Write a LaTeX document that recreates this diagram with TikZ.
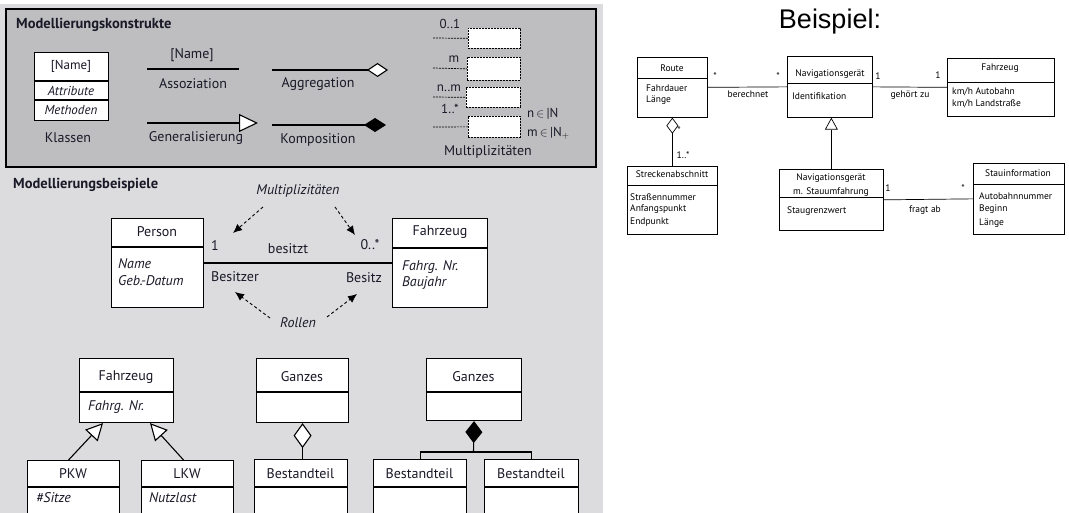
\documentclass[tikz,border=0pt]{standalone}
\usepackage{fontspec}
\setmainfont{PT Sans}
\newfontfamily\arialfont{Liberation Sans}
\usetikzlibrary{arrows.meta,calc}
\definecolor{outerbg}{RGB}{220,220,222}
\definecolor{innerbg}{RGB}{190,190,192}
\definecolor{txt}{RGB}{25,25,40}
\newcommand\lbox[6]{%
  \node[ubox, minimum width={#4-#2}, minimum height={#5-#3}] (#1) at (#2,#3) {};
  \draw[line width=1.1pt] (#2,#6) -- (#4,#6);}
\newcommand\rbox[6]{%
  \node[rubox, minimum width={#4-#2}, minimum height={#5-#3}] (#1) at (#2,#3) {};
  \draw[line width=0.7pt] (#2,#6) -- (#4,#6);}
\begin{document}
\begin{tikzpicture}[x=1pt,y=-1pt,
  ubox/.style={draw, fill=white, line width=1.1pt, inner sep=0pt, anchor=north west},
  rubox/.style={draw, fill=white, line width=0.7pt, inner sep=0pt, anchor=north west},
  lt/.style={font=\fontsize{14}{16}\selectfont, text=txt, inner sep=0pt},
  lts/.style={font=\fontsize{13}{15}\selectfont, text=txt, inner sep=0pt},
  lti/.style={font=\fontsize{14}{16}\selectfont\itshape, text=txt, inner sep=0pt},
  ltsi/.style={font=\fontsize{13}{15}\selectfont\itshape, text=txt, inner sep=0pt},
  hd/.style={font=\fontsize{14.5}{16}\selectfont\bfseries, text=txt, inner sep=0pt, anchor=west},
  rt/.style={font=\fontsize{9.5}{11}\selectfont, inner sep=0pt},
  rtw/.style={rt, anchor=west},
  lline/.style={line width=1.1pt},
  rline/.style={line width=0.7pt},
  darr/.style={line width=0.9pt, dash pattern=on 3pt off 2.5pt, -{Latex[length=9pt,width=8pt]}},
  mbox/.style={draw, fill=white, line width=0.7pt, dash pattern=on 2pt off 1pt, inner sep=0pt, anchor=north west},
  mline/.style={line width=0.7pt, dash pattern=on 2pt off 1pt}]
\useasboundingbox (0,0) rectangle (1069,513);
% backgrounds
\fill[outerbg] (0,4) rectangle (603,513);
\draw[fill=innerbg, line width=1.1pt] (6,9) rectangle (596,167);

% ---------------- Modellierungskonstrukte
\node[hd] (h1) at (16,25) {Modellierungskonstrukte};
\lbox{kl}{34}{52}{108}{120}{81}
\draw[lline] (34,100) -- (108,100);
\node[lts] (kln) at (71,66) {[Name]};
\node[ltsi] (kla) at (71,91) {Attribute};
\node[ltsi] (klm) at (71,110) {Methoden};
\node[lt] (klt) at (68,138) {Klassen};

\coordinate (as1) at (147,69); \coordinate (as2) at (239,69);
\draw[lline] (as1) -- (as2);
\node[lt] (asn) at (192,55) {[Name]};
\node[lt] (ast) at (193,84) {Assoziation};

\coordinate (ge1) at (147,123); \coordinate (ge2) at (258,123);
\draw[lline, -{Triangle[length=19pt,width=18pt,fill=white]}] (ge1) -- (ge2);
\node[lt] (get) at (196,138) {Generalisierung};

\coordinate (ag1) at (272,70); \coordinate (ag2) at (388,70);
\draw[lline, -{Diamond[length=21pt,width=14pt,fill=white]}] (ag1) -- (ag2);
\node[lt] (agt) at (318,84) {Aggregation};

\coordinate (ko1) at (272,125); \coordinate (ko2) at (386,125);
\draw[lline, -{Diamond[length=22pt,width=14pt,fill=black]}] (ko1) -- (ko2);
\node[lt] (kot) at (318,140) {Komposition};

% Multiplizitaeten
\node[mbox, minimum width=52, minimum height=20] (m1) at (468,28) {};
\node[mbox, minimum width=53, minimum height=23] (m2) at (467,57) {};
\node[mbox, minimum width=54, minimum height=20] (m3) at (466,87) {};
\node[mbox, minimum width=52, minimum height=21] (m4) at (468,116) {};
\coordinate (ml1) at (433,38); \coordinate (ml2) at (433,68);
\coordinate (ml3) at (433,97); \coordinate (ml4) at (433,127);
\draw[mline] (ml1) -- (m1.west);
\draw[mline] (ml2) -- (m2.west);
\draw[mline] (ml3) -- (m3.west);
\draw[mline] (ml4) -- (m4.west);
\node[lts] (mt1) at (450,24) {0..1};
\node[lts] (mt2) at (454,59) {m};
\node[lts] (mt3) at (449,88) {n..m};
\node[lts] (mt4) at (450,109) {1..*};
\node[lts, anchor=west] (mn) at (527,114) {n\,$\in$\,|N};
\node[lts, anchor=west] (mm) at (527,133) {m\,$\in$\,|N$_+$};
\node[lt] (mtt) at (488,152) {Multiplizitäten};

% ---------------- Modellierungsbeispiele
\node[hd] (h2) at (13,185) {Modellierungsbeispiele};
\lbox{person}{111}{218}{203}{307}{247}
\node[lt] (pt) at (157,232) {Person};
\node[lti, anchor=west] (pn) at (118,264) {Name};
\node[lti, anchor=west] (pg) at (118,281) {Geb.-Datum};
\lbox{fz}{392}{218}{487}{307}{248}
\node[lt] (ft) at (440,232) {Fahrzeug};
\node[lti, anchor=west] (fn) at (402,267) {Fahrg. Nr.};
\node[lti, anchor=west] (fb) at (402,283) {Baujahr};
\draw[lline] (person.east) -- (fz.west);
\node[lt] (e1) at (215,246) {1};
\node[lt] (eb) at (288,249) {besitzt};
\node[lt] (e2) at (370,245) {0..*};
\node[lt, anchor=west] (er1) at (211,277) {Besitzer};
\node[lt] (er2) at (364,278) {Besitz};
\node[lti] (mu) at (298,191) {Multiplizitäten};
\node[lti] (ro) at (298,323) {Rollen};
\coordinate (a1s) at (263,207); \coordinate (a1e) at (233,233);
\coordinate (a2s) at (335,207); \coordinate (a2e) at (355,235);
\coordinate (a3s) at (270,318); \coordinate (a3e) at (235,292);
\coordinate (a4s) at (327,317); \coordinate (a4e) at (357,294);
\draw[darr] (a1s) -- (a1e);
\draw[darr] (a2s) -- (a2e);
\draw[darr] (a3s) -- (a3e);
\draw[darr] (a4s) -- (a4e);

% Generalisierung example
\lbox{fz2}{79}{358}{173}{422}{392}
\node[lt] (f2t) at (126,377) {Fahrzeug};
\node[lti, anchor=west] (f2n) at (88,407) {Fahrg. Nr.};
\lbox{pkw}{27}{460}{119}{530}{487}
\node[lt] (pkt) at (73,474) {PKW};
\node[lti, anchor=west] (pks) at (36,498) {\#Sitze};
\lbox{lkw}{141}{460}{233}{530}{487}
\node[lt] (lkt) at (187,474) {LKW};
\node[lti, anchor=west] (lkn) at (149,498) {Nutzlast};
\draw[lline, -{Triangle[length=17pt,width=17pt,fill=white]}] ($(pkw.north)+(-5,0)$) -- ($(fz2.south west)+(24,0)$);
\draw[lline, -{Triangle[length=17pt,width=17pt,fill=white]}] ($(lkw.north)+(-4,0)$) -- ($(fz2.south west)+(71,0)$);

% Aggregation example
\lbox{g1}{256}{358}{348}{422}{392}
\node[lt] (g1t) at (302,377) {Ganzes};
\lbox{b1}{254}{459}{347}{530}{487}
\node[lt] (b1t) at (300.5,474) {Bestandteil};
\draw[lline, {Diamond[length=25pt,width=18pt,fill=white]}-] (g1.south) -- (g1.south |- b1.north);

% Komposition example
\lbox{g2}{426}{358}{521}{420}{392}
\node[lt] (g2t) at (473.5,377) {Ganzes};
\lbox{b2}{373}{459}{466}{530}{487}
\node[lt] (b2t) at (419.5,474) {Bestandteil};
\lbox{b3}{484}{459}{578}{530}{487}
\node[lt] (b3t) at (531,474) {Bestandteil};
\coordinate (kj) at (473.5,452);
\draw[lline, {Diamond[length=22pt,width=17pt,fill=black]}-] (g2.south) -- (kj);
\draw[lline] (b2.north) |- (kj) -| (b3.north);

% ---------------- Beispiel (right)
\node[font=\arialfont\fontsize{27}{30}\selectfont, inner sep=0pt] (bsp) at (830,22) {Beispiel:};
\rbox{route}{637}{57}{707}{117}{78}
\node[rt] (rot) at (672,68) {Route};
\node[rtw] (ro1) at (646,88) {Fahrdauer};
\node[rtw] (ro2) at (646,100) {Länge};
\rbox{nav}{787}{56}{872}{117}{83}
\node[rt] (nvt) at (830,74) {Navigationsgerät};
\node[rtw] (nv1) at (792,96) {Identifikation};
\rbox{fz3}{947}{58}{1054}{116}{82}
\node[rt] (f3t) at (1000,68) {Fahrzeug};
\node[rtw] (f31) at (952,92) {km/h Autobahn};
\node[rtw] (f32) at (952,104) {km/h Landstraße};
\rbox{navs}{779}{169}{883}{230}{197}
\node[rt] (ns1) at (831,178) {Navigationsgerät};
\node[rt] (ns2) at (831,192) {m. Stauumfahrung};
\node[rtw] (ns3) at (787,211) {Staugrenzwert};
\rbox{stau}{973}{163}{1064}{234}{184}
\node[rt] (stt) at (1018,173) {Stauinformation};
\node[rtw] (st1) at (979,196) {Autobahnnummer};
\node[rtw] (st2) at (979,209) {Beginn};
\node[rtw] (st3) at (979,223) {Länge};
\rbox{strk}{627}{166}{717}{234}{185}
\node[rt] (skt) at (672,174) {Streckenabschnitt};
\node[rtw] (sk1) at (630,197) {Straßennummer};
\node[rtw] (sk2) at (630,209) {Anfangspunkt};
\node[rtw] (sk3) at (630,222) {Endpunkt};

\draw[rline] (route.east) -- (nav.west);
\node[rt] (c1) at (715,76) {*};
\node[rt] (c2) at (778,76) {*};
\node[rt] (c3) at (748,94) {berechnet};
\draw[rline] (nav.east) -- (fz3.west);
\node[rt] (c4) at (878,76) {1};
\node[rt] (c5) at (938,75) {1};
\node[rt] (c6) at (910,95) {gehört zu};
\draw[rline] (navs.east) -- (stau.west);
\node[rt] (c7) at (888,188) {1};
\node[rt] (c8) at (963,188) {*};
\node[rt] (c9) at (925,210) {fragt ab};
\draw[rline, -{Triangle[length=12pt,width=13pt,fill=white]}] (navs.north) -- (navs.north |- nav.south);
\draw[rline, {Diamond[length=16pt,width=12pt,fill=white]}-] (route.south) -- (strk.north);
\node[rt] (c10) at (679,130) {*};
\node[rt] (c11) at (683,155) {1..*};
\end{tikzpicture}
\end{document}
